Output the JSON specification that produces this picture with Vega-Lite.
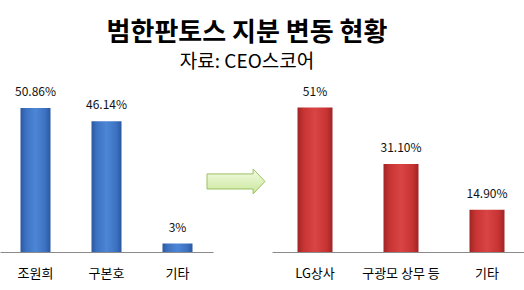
{
  "$schema": "https://vega.github.io/schema/vega-lite/v6.json",
  "padding": {"top": 20, "left": 0, "right": 0, "bottom": 0},
  "background": "white",
  "bounds": "flush",
  "title": {
    "text": "범한판토스 지분 변동 현황",
    "subtitle": "자료: CEO스코어",
    "font": "Noto Sans CJK KR",
    "fontSize": 26,
    "fontWeight": "bold",
    "color": "#000000",
    "subtitleFont": "Noto Sans CJK KR",
    "subtitleFontSize": 19,
    "subtitleColor": "#000000",
    "subtitlePadding": 7,
    "anchor": "middle",
    "dx": -18,
    "offset": 10
  },
  "datasets": {
    "before": [
      {"name": "조원희", "share": 50.86, "label": "50.86%"},
      {"name": "구본호", "share": 46.14, "label": "46.14%"},
      {"name": "기타", "share": 3, "label": "3%"}
    ],
    "after": [
      {"name": "LG상사", "share": 51, "label": "51%"},
      {"name": "구광모 상무 등", "share": 31.1, "label": "31.10%"},
      {"name": "기타", "share": 14.9, "label": "14.90%"}
    ],
    "arrow": [
      {"pos": 0.39, "share": 24.9}
    ]
  },
  "spacing": 0,
  "hconcat": [
    {
      "width": 213,
      "height": 170,
      "data": {"name": "before"},
      "encoding": {
        "x": {"field": "name", "type": "nominal", "sort": null,
              "scale": {"paddingInner": 0, "paddingOuter": 0},
              "axis": {"title": null, "labelAngle": 0, "ticks": false, "labelPadding": 15,
                       "labelFontSize": 13, "labelFont": "Noto Sans CJK KR", "labelColor": "#000000",
                       "domainColor": "#8a8a8a", "domainWidth": 1}},
        "y": {"field": "share", "type": "quantitative",
              "scale": {"domain": [0, 60]}, "axis": null}
      },
      "layer": [
        {"mark": {"type": "bar", "size": 30,
                  "fill": {"gradient": "linear", "x1": 0, "x2": 1, "y1": 0, "y2": 0,
                           "stops": [
                             {"offset": 0, "color": "#2b58a0"},
                             {"offset": 0.18, "color": "#3d72c2"},
                             {"offset": 0.5, "color": "#4d86d6"},
                             {"offset": 0.82, "color": "#3d72c2"},
                             {"offset": 1, "color": "#2b58a0"}]}}},
        {"mark": {"type": "text", "dy": -9, "fontSize": 12, "font": "Noto Sans CJK KR", "color": "#111111", "baseline": "bottom"},
         "encoding": {"text": {"field": "label"}}}
      ]
    },
    {
      "width": 59,
      "height": 170,
      "data": {"name": "arrow"},
      "mark": {"type": "point", "filled": true, "size": 3364,
               "shape": "M -1 -0.26 L 0.59 -0.26 L 0.59 -0.43 L 1 0 L 0.59 0.43 L 0.59 0.26 L -1 0.26 Z",
               "fill": {"gradient": "linear", "x1": 0, "x2": 0, "y1": 0, "y2": 1,
                        "stops": [
                          {"offset": 0, "color": "#f4fbe4"},
                          {"offset": 1, "color": "#c9e79b"}]},
               "stroke": "#9cc060", "strokeWidth": 1, "opacity": 1},
      "encoding": {
        "x": {"field": "pos", "type": "quantitative", "scale": {"domain": [0, 1]}, "axis": null},
        "y": {"field": "share", "type": "quantitative", "scale": {"domain": [0, 60]}, "axis": null}
      }
    },
    {
      "width": 258,
      "height": 170,
      "data": {"name": "after"},
      "encoding": {
        "x": {"field": "name", "type": "nominal", "sort": null,
              "scale": {"paddingInner": 0, "paddingOuter": 0},
              "axis": {"title": null, "labelAngle": 0, "ticks": false, "labelPadding": 15,
                       "labelFontSize": 13, "labelFont": "Noto Sans CJK KR", "labelColor": "#000000",
                       "domainColor": "#8a8a8a", "domainWidth": 1}},
        "y": {"field": "share", "type": "quantitative",
              "scale": {"domain": [0, 60]}, "axis": null}
      },
      "layer": [
        {"mark": {"type": "bar", "size": 35,
                  "fill": {"gradient": "linear", "x1": 0, "x2": 1, "y1": 0, "y2": 0,
                           "stops": [
                             {"offset": 0, "color": "#a02424"},
                             {"offset": 0.18, "color": "#c83434"},
                             {"offset": 0.5, "color": "#d94444"},
                             {"offset": 0.82, "color": "#c83434"},
                             {"offset": 1, "color": "#a02424"}]}}},
        {"mark": {"type": "text", "dy": -9, "fontSize": 12, "font": "Noto Sans CJK KR", "color": "#111111", "baseline": "bottom"},
         "encoding": {"text": {"field": "label"}}}
      ]
    }
  ],
  "config": {
    "view": {"stroke": null}
  }
}
